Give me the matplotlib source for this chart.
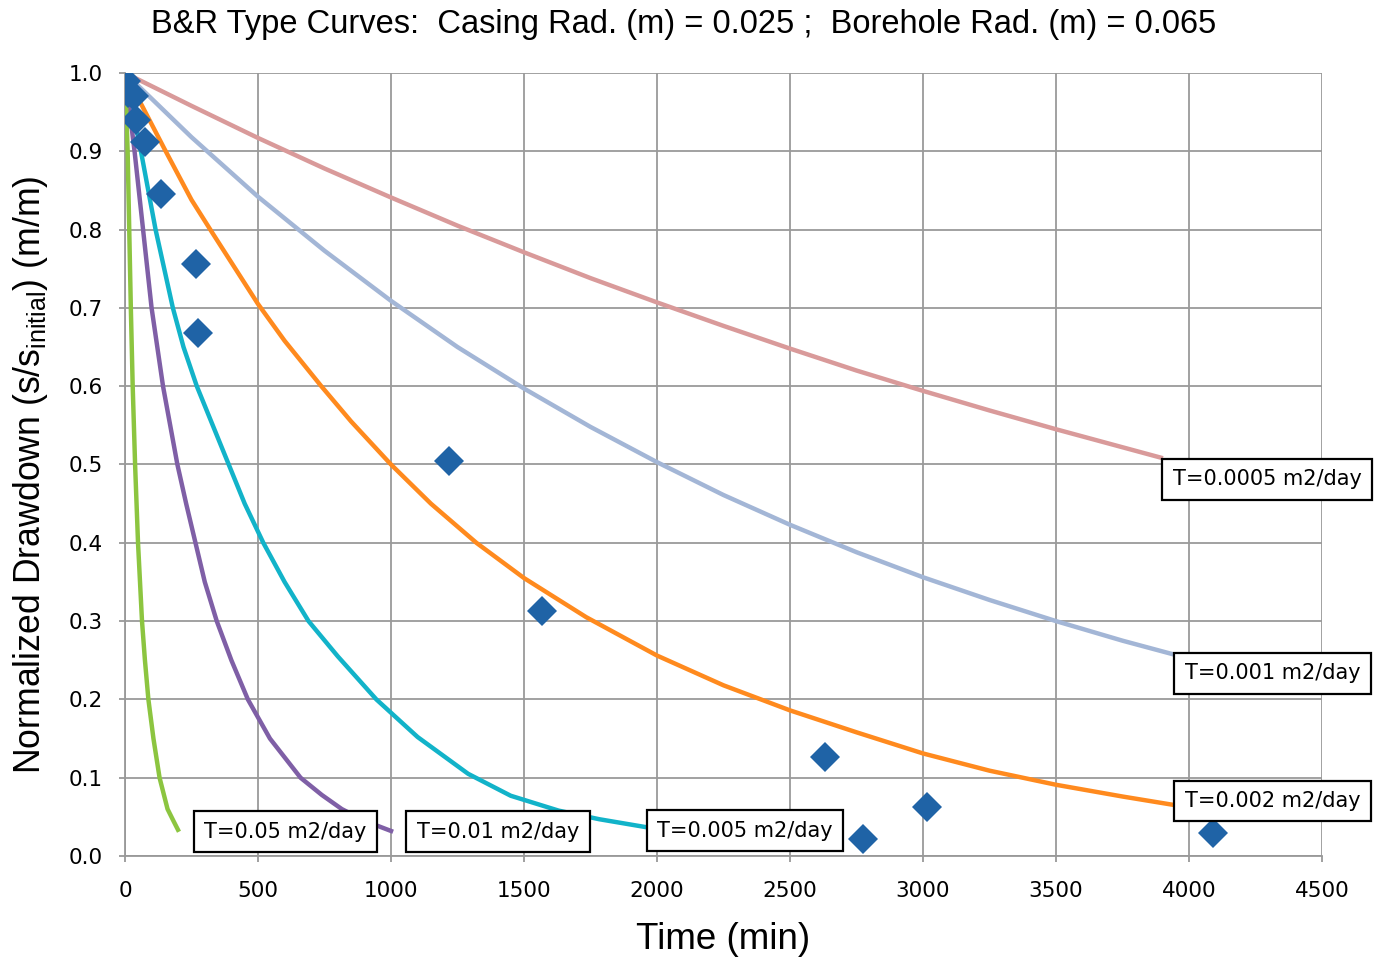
import matplotlib
matplotlib.use('Agg')
import matplotlib.pyplot as plt

# measured drawdown (normalized) vs time
obsTime = [3, 10, 35, 40, 75, 137, 266, 275, 1218, 1567, 2631, 2773, 3016, 4090]
obsDrawdown = [0.99, 0.975, 0.97, 0.94, 0.912, 0.846, 0.756, 0.668, 0.505, 0.313, 0.127, 0.022, 0.062, 0.029]

# type curves, one per transmissivity
t0005 = [0, 250, 500, 750, 1000, 1250, 1500, 1750, 2000, 2250, 2500, 2750, 3000, 3250, 3500, 3750, 3902]
s0005 = [1.0, 0.958, 0.917, 0.878, 0.841, 0.805, 0.771, 0.738, 0.707, 0.677, 0.648, 0.620, 0.594, 0.569, 0.545, 0.522, 0.508]

t001 = [0, 250, 500, 750, 1000, 1250, 1500, 1750, 2000, 2250, 2500, 2750, 3000, 3250, 3500, 3750, 3947]
s001 = [1.0, 0.918, 0.842, 0.773, 0.709, 0.65, 0.597, 0.548, 0.503, 0.461, 0.423, 0.388, 0.356, 0.327, 0.30, 0.275, 0.257]

t002 = [0, 150, 250, 330, 500, 600, 738, 850, 1000, 1150, 1321, 1500, 1734, 2000, 2250, 2500, 2750, 3000, 3250, 3500, 3750, 3947]
s002 = [1.0, 0.902, 0.838, 0.795, 0.705, 0.658, 0.60, 0.555, 0.50, 0.45, 0.40, 0.355, 0.305, 0.256, 0.218, 0.186, 0.158, 0.131, 0.109, 0.091, 0.076, 0.065]

t005 = [0, 30, 60, 115, 180, 220, 270, 330, 390, 450, 520, 600, 690, 800, 945, 1100, 1290, 1450, 1630, 1783, 1974]
s005 = [1.0, 0.95, 0.90, 0.80, 0.70, 0.65, 0.60, 0.55, 0.50, 0.45, 0.40, 0.35, 0.30, 0.255, 0.20, 0.152, 0.105, 0.077, 0.058, 0.047, 0.036]

t01 = [0, 18, 36, 68, 100, 143, 170, 197, 230, 265, 300, 345, 400, 462, 545, 660, 740, 815, 900, 1008]
s01 = [1.0, 0.95, 0.90, 0.80, 0.70, 0.60, 0.55, 0.50, 0.45, 0.40, 0.35, 0.30, 0.25, 0.20, 0.15, 0.10, 0.078, 0.06, 0.045, 0.031]

t05 = [0, 5, 10, 16, 22, 29, 38, 49, 64, 75, 88, 107, 130, 160, 182, 203]
s05 = [1.0, 0.95, 0.90, 0.80, 0.70, 0.60, 0.50, 0.40, 0.30, 0.25, 0.20, 0.15, 0.10, 0.06, 0.045, 0.031]

curveLabels = ['T=0.0005 m2/day', 'T=0.001 m2/day', 'T=0.002 m2/day',
               'T=0.005 m2/day', 'T=0.01 m2/day', 'T=0.05 m2/day']

plt.rcParams['font.family'] = 'DejaVu Sans'

fig = plt.figure(figsize=(13.81, 9.6), dpi=100)
ax = fig.add_axes([0.0905, 0.1083, 0.8668, 0.8157])

curves = [
    (t0005, s0005, '#d99a9a'),
    (t001, s001, '#a3b6d6'),
    (t002, s002, '#ff8a1e'),
    (t005, s005, '#12b3c9'),
    (t01, s01, '#7f5fa6'),
    (t05, s05, '#8cc540'),
]
for xs, ys, col in curves:
    ax.plot(xs, ys, color=col, lw=3.2, solid_capstyle='butt', solid_joinstyle='round', zorder=3)

ax.plot(obsTime, obsDrawdown, 'D', color='#1f63a6', ms=15, mew=0, zorder=5)

# curve labels sit at the end of each curve
boxStyle = dict(boxstyle='square,pad=0.5', fc='white', ec='black', lw=1.6)
ends = [(t0005[-1], s0005[-1]), (t001[-1], s001[-1]), (t002[-1], s002[-1]),
        (t005[-1], s005[-1]), (t01[-1], s01[-1]), (t05[-1], s05[-1])]
anchors = ['top', 'top', 'center', 'center', 'center', 'center']
offsets = [(7, -8), (7, -6), (7, 3), (5, -2), (17, 0), (18, 0)]
for (x, y), lab, va, off in zip(ends, curveLabels, anchors, offsets):
    ax.annotate(lab, (x, y), xytext=off, textcoords='offset points',
                ha='left', va=va, fontsize=15, bbox=boxStyle, zorder=6,
                annotation_clip=False)

ax.set_xlim(0, 4500)
ax.set_ylim(0, 1.0)
ax.set_xticks(range(0, 4501, 500))
ax.set_yticks([i / 10 for i in range(11)])
ax.set_yticklabels(['{:.1f}'.format(i / 10) for i in range(11)])
ax.tick_params(labelsize=15.5, length=4, color='#999999', width=1.3)
ax.tick_params(axis='x', pad=14)
ax.tick_params(axis='y', pad=12)
ax.grid(True, color='#9a9a9a', lw=1.3)
ax.set_axisbelow(True)
for side in ['top', 'right']:
    ax.spines[side].set_visible(False)
for side in ['left', 'bottom']:
    ax.spines[side].set_color('#999999')
    ax.spines[side].set_linewidth(1.3)

ax.set_xlabel('Time (min)', fontsize=26.5, family='Liberation Sans', labelpad=15)
ax.set_ylabel('Normalized Drawdown (s/s$_{\\mathregular{initial}}$) (m/m)', fontsize=25.7,
              family='Liberation Sans')
ax.yaxis.set_label_coords(-0.063, 0.487)
fig.text(0.495, 0.974, 'B&R Type Curves:  Casing Rad. (m) = 0.025 ;  Borehole Rad. (m) = 0.065',
         ha='center', va='center', fontsize=23.5, family='Liberation Sans')

fig.savefig('out.png', dpi=100)
